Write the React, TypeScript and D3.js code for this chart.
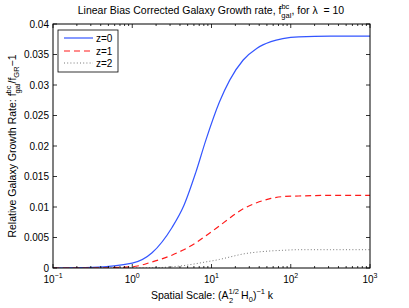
import React from "react";
import * as d3 from "d3";

const logK = [-1, -0.5, 0, 0.25, 0.5, 0.65, 0.8, 0.93, 1.1, 1.23, 1.4, 1.57, 1.75, 1.9, 2.1, 2.5, 3];
const z0 = [0, 0.0001, 0.0008, 0.0025, 0.0066, 0.0102, 0.0156, 0.021, 0.0272, 0.0308, 0.0341, 0.036, 0.0371, 0.0376, 0.0379, 0.038, 0.038];
const z1 = [0, 0, 0.0002, 0.001, 0.0021, 0.003, 0.0041, 0.0053, 0.0069, 0.0082, 0.0097, 0.0107, 0.0114, 0.0117, 0.0118, 0.0119, 0.0119];
const z2 = [0, 0, 0, 0.00003, 0.0002, 0.0004, 0.0007, 0.001, 0.0014, 0.0018, 0.0023, 0.0026, 0.0028, 0.0029, 0.003, 0.003, 0.003];
const yTicks = [0, 0.005, 0.01, 0.015, 0.02, 0.025, 0.03, 0.035, 0.04];
const yTickLabels = ["0", "0.005", "0.01", "0.015", "0.02", "0.025", "0.03", "0.035", "0.04"];
const xDecades = [-1, 0, 1, 2, 3];
const seriesNames = ["z=0", "z=1", "z=2"];

const L = 53, R = 370, T = 24, B = 268;
const FONT = "'Liberation Sans', Arial, Helvetica, sans-serif";

export default function App() {
  const x = d3.scaleLog().domain([0.1, 1000]).range([L, R]);
  const y = d3.scaleLinear().domain([0, 0.04]).range([B, T]);
  const line = d3
    .line<[number, number]>()
    .x((d) => x(Math.pow(10, d[0])))
    .y((d) => y(d[1]))
    .curve(d3.curveMonotoneX);
  const mk = (vals: number[]) => logK.map((k, i) => [k, vals[i]] as [number, number]);
  const series = [
    { vals: z0, color: "#3355ff", dash: "", width: 1.2 },
    { vals: z1, color: "#ff1a1a", dash: "6,4", width: 1.2 },
    { vals: z2, color: "#777777", dash: "1,2.2", width: 1 },
  ];
  const minor: number[] = [];
  for (let e = -1; e < 3; e++) for (let m = 2; m <= 9; m++) minor.push(m * Math.pow(10, e));

  return (
    <svg width={409} height={308} style={{ position: "absolute", left: 0, top: 0 }} fontFamily={FONT}>
      <rect width={409} height={308} fill="#fff" />
      <clipPath id="pc">
        <rect x={L} y={T} width={R - L} height={B - T} />
      </clipPath>
      <g clipPath="url(#pc)">
        {series.map((s, i) => (
          <path key={i} d={line(mk(s.vals)) || ""} fill="none" stroke={s.color} strokeWidth={s.width} strokeDasharray={s.dash} />
        ))}
      </g>
      <g stroke="#000" strokeWidth={0.8}>
        {xDecades.map((e) => {
          const xx = x(Math.pow(10, e));
          return (
            <g key={"xd" + e}>
              <line x1={xx} x2={xx} y1={B} y2={B - 4} />
              <line x1={xx} x2={xx} y1={T} y2={T + 4} />
            </g>
          );
        })}
        {minor.map((v, i) => {
          const xx = x(v);
          return (
            <g key={"xm" + i}>
              <line x1={xx} x2={xx} y1={B} y2={B - 2} />
              <line x1={xx} x2={xx} y1={T} y2={T + 2} />
            </g>
          );
        })}
        {yTicks.map((v, i) => (
          <g key={"yt" + i}>
            <line x1={L} x2={L + 4} y1={y(v)} y2={y(v)} />
            <line x1={R} x2={R - 4} y1={y(v)} y2={y(v)} />
          </g>
        ))}
      </g>
      <rect x={L} y={T} width={R - L} height={B - T} fill="none" stroke="#000" strokeWidth={1} />
      {yTicks.map((v, i) => (
        <text key={"yl" + i} x={L - 4} y={y(v) + 3.5} textAnchor="end" fontSize={10}>
          {yTickLabels[i]}
        </text>
      ))}
      {xDecades.map((e) => (
        <text key={"xl" + e} x={x(Math.pow(10, e))} y={283} textAnchor="middle" fontSize={10}>
          10
          <tspan dy={-5} fontSize={7}>{String(e).replace("-", "\u2212")}</tspan>
        </text>
      ))}
      <rect x={58} y={30} width={60} height={42} fill="#fff" stroke="#000" strokeWidth={0.8} />
      {series.map((s, i) => {
        const ly = [38, 51, 63][i];
        return (
          <g key={"lg" + i}>
            <line x1={64} x2={93} y1={ly} y2={ly} stroke={s.color} strokeWidth={s.width} strokeDasharray={s.dash} />
            <text x={96} y={ly + 3.5} fontSize={10}>{seriesNames[i]}</text>
          </g>
        );
      })}
      <text x={211} y={14} textAnchor="middle" fontSize={10.5}>
        Linear Bias Corrected Galaxy Growth rate, f
        <tspan dy={-5} fontSize={7.5}>bc</tspan>
        <tspan dx={-8} dy={9} fontSize={7.5}>gal</tspan>
        <tspan dy={-4}>, for λ{"\u00a0\u00a0"}= 10</tspan>
      </text>
      <text x={212} y={299} textAnchor="middle" fontSize={10.5}>
        Spatial Scale: (A
        <tspan dy={-5} fontSize={7.5}>1/2</tspan>
        <tspan dx={-10} dy={9} fontSize={7.5}>2</tspan>
        <tspan dx={8} dy={-4}>H</tspan>
        <tspan dy={3} fontSize={7.5}>0</tspan>
        <tspan dy={-3}>)</tspan>
        <tspan dy={-5} fontSize={7.5}>−1</tspan>
        <tspan dy={5}> k</tspan>
      </text>
      <text transform="translate(16,146) rotate(-90)" textAnchor="middle" fontSize={10.5}>
        Relative Galaxy Growth Rate: f
        <tspan dy={-5} fontSize={7.5}>bc</tspan>
        <tspan dx={-8} dy={9} fontSize={7.5}>gal</tspan>
        <tspan dy={-4}>/f</tspan>
        <tspan dy={3} fontSize={7.5}>GR</tspan>
        <tspan dy={-3}>−1</tspan>
      </text>
    </svg>
  );
}
